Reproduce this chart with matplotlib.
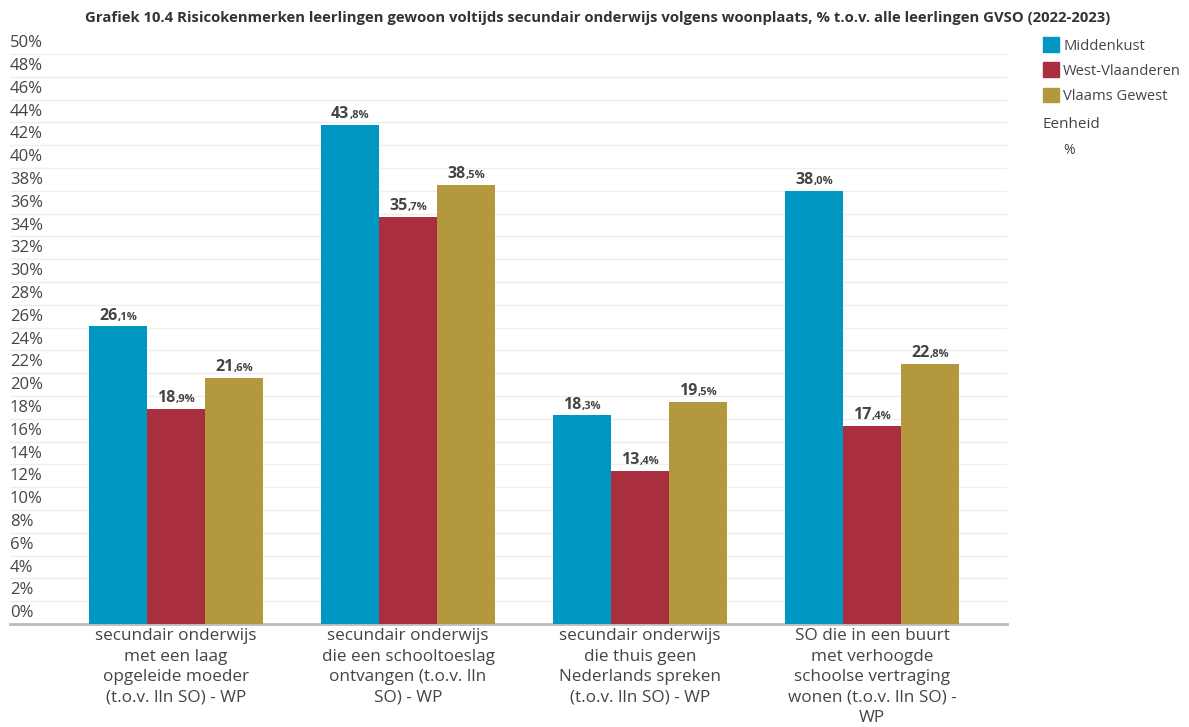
import matplotlib
matplotlib.use('Agg')
import matplotlib.pyplot as plt
from matplotlib.patches import Patch
from matplotlib.offsetbox import TextArea, HPacker, AnnotationBbox
import numpy as np

# data
categories = [
    'secundair onderwijs\nmet een laag\nopgeleide moeder\n(t.o.v. lln SO) - WP',
    'secundair onderwijs\ndie een schooltoeslag\nontvangen (t.o.v. lln\nSO) - WP',
    'secundair onderwijs\ndie thuis geen\nNederlands spreken\n(t.o.v. lln SO) - WP',
    'SO die in een buurt\nmet verhoogde\nschoolse vertraging\nwonen (t.o.v. lln SO) -\nWP',
]
series_names = ['Middenkust', 'West-Vlaanderen', 'Vlaams Gewest']
middenkust = [26.1, 43.8, 18.3, 38.0]
west_vlaanderen = [18.9, 35.7, 13.4, 17.4]
vlaams_gewest = [21.6, 38.5, 19.5, 22.8]
yticks = list(range(0, 51, 2))

colors = ['#0097c2', '#a92f3f', '#b3983d']
text_col = '#444444'
plt.rcParams['font.family'] = ['Open Sans', 'DejaVu Sans']

W, H = 1189, 727
fig = plt.figure(figsize=(W / 100, H / 100), dpi=100)
ax = fig.add_axes([10 / W, (H - 624) / H, (1007 - 10) / W, (624 - 54) / H])

x = np.arange(len(categories))
width = 0.25
all_series = [middenkust, west_vlaanderen, vlaams_gewest]
for i, vals in enumerate(all_series):
    pos = x + (i - 1) * width
    ax.bar(pos, vals, width, color=colors[i], label=series_names[i], zorder=3)
    for px, v in zip(pos, vals):
        whole, dec = f'{v:.1f}'.split('.')
        box = HPacker(children=[
            TextArea(whole, textprops=dict(fontsize=11.5, fontweight='bold', color=text_col)),
            TextArea(',' + dec + '%', textprops=dict(fontsize=8, fontweight='bold', color=text_col)),
        ], align='baseline', pad=0, sep=0)
        ab = AnnotationBbox(box, (px, v), xybox=(0, 2), xycoords='data',
                            boxcoords='offset points', box_alignment=(0.5, 0),
                            frameon=False, zorder=4)
        ax.add_artist(ab)

ax.set_xlim(-(176 - 10) / 232, 3 + (1007 - 872) / 232)
ax.set_ylim(0, 50)

# grid lines with labels sitting above them
for t in yticks:
    if t > 0:
        ax.axhline(t, color='#eeeeee', lw=1, zorder=1)
    ax.text(0.0, t + 0.25, f'{t}%', transform=ax.get_yaxis_transform(),
            ha='left', va='bottom', fontsize=12, color=text_col)
ax.set_yticks([])

for s in ['top', 'right', 'left']:
    ax.spines[s].set_visible(False)
ax.spines['bottom'].set_color('#bbbbbb')
ax.spines['bottom'].set_linewidth(2)

ax.set_xticks(x)
ax.set_xticklabels(categories, fontsize=12.3, color=text_col, linespacing=1.37)
ax.tick_params(axis='x', length=0, pad=3)

fig.text(598 / W, 1 - 18 / H, 'Grafiek 10.4 Risicokenmerken leerlingen gewoon voltijds secundair onderwijs volgens woonplaats, % t.o.v. alle leerlingen GVSO (2022-2023)',
         ha='center', va='center', fontsize=10.7, fontweight='bold', color='#333333')

handles = [Patch(color=c, label=n) for c, n in zip(colors, series_names)]
fig.legend(handles=handles, loc='upper left', bbox_to_anchor=(1036 / W, 1 - 30 / H),
           frameon=False, fontsize=10.6, handlelength=1.05, handleheight=1.15,
           handletextpad=0.3, labelspacing=0.6, labelcolor=text_col, borderpad=0)
fig.text(1043 / W, 1 - 125 / H, 'Eenheid', ha='left', va='center', fontsize=11, color=text_col)
fig.text(1063 / W, 1 - 150 / H, '%', ha='left', va='center', fontsize=10, color=text_col)

fig.savefig('out.png', dpi=100)
